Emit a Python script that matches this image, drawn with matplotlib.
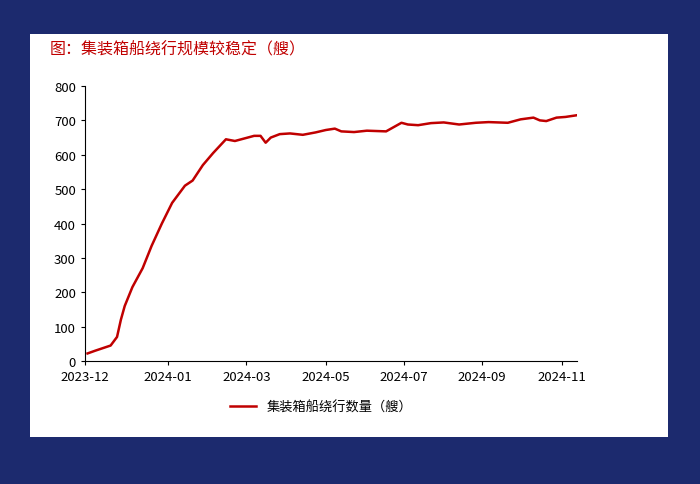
import matplotlib.pyplot as plt
from matplotlib.patches import Rectangle

plt.rcParams["font.family"] = ["Noto Sans CJK SC", "DejaVu Sans"]

# day offsets from 2023-12 tick, and vessel counts
days = [2, 8, 12, 16, 20, 22, 25, 28, 31, 37, 45, 52, 60, 68, 70, 78, 84, 92, 100,
        105, 110, 117, 125, 132, 137, 141, 145, 152, 160, 170, 180, 188, 195, 200,
        210, 220, 235, 247, 252, 260, 270, 280, 292, 305, 315, 330, 340, 350,
        355, 360, 368, 375, 384]
counts = [22, 30, 35, 40, 45, 55, 70, 120, 160, 215, 270, 335, 400, 460, 470, 510,
          525, 570, 605, 625, 645, 640, 648, 655, 655, 635, 650, 660, 662, 658, 665,
          672, 676, 668, 666, 670, 668, 693, 688, 686, 692, 694, 688, 693, 695,
          693, 703, 708, 700, 698, 708, 710, 715]

tick_pos = [0, 65, 126, 188, 249, 310, 372]
tick_labels = ["2023-12", "2024-01", "2024-03", "2024-05", "2024-07", "2024-09", "2024-11"]

fig = plt.figure(figsize=(7, 4.85), dpi=100)
fig.patch.set_facecolor("#1c2a6e")
fig.add_artist(Rectangle((30 / 700, 1 - 438 / 485), 638 / 700, 403 / 485,
                         transform=fig.transFigure, facecolor="white", edgecolor="none", zorder=0))
fig.text(50 / 700, 1 - 50 / 485, "图：集装箱船绕行规模较稳定（艘）", color="#c00000",
         fontsize=11.5, va="center")

ax = fig.add_axes([85 / 700, 1 - 362 / 485, 492 / 700, 275 / 485])
ax.plot(days, counts, color="#c00000", lw=1.8, label="集装箱船绕行数量（艘）")
ax.set_xlim(0, 384)
ax.set_ylim(0, 800)
ax.set_yticks(range(0, 801, 100))
ax.set_xticks(tick_pos)
ax.set_xticklabels(tick_labels)
ax.tick_params(labelsize=9.5, length=3)
for s in ["top", "right"]:
    ax.spines[s].set_visible(False)
ax.legend(loc="upper center", bbox_to_anchor=(0.48, -0.1), frameon=False, fontsize=9.5)

fig.savefig("out.png", dpi=100, facecolor=fig.get_facecolor())
